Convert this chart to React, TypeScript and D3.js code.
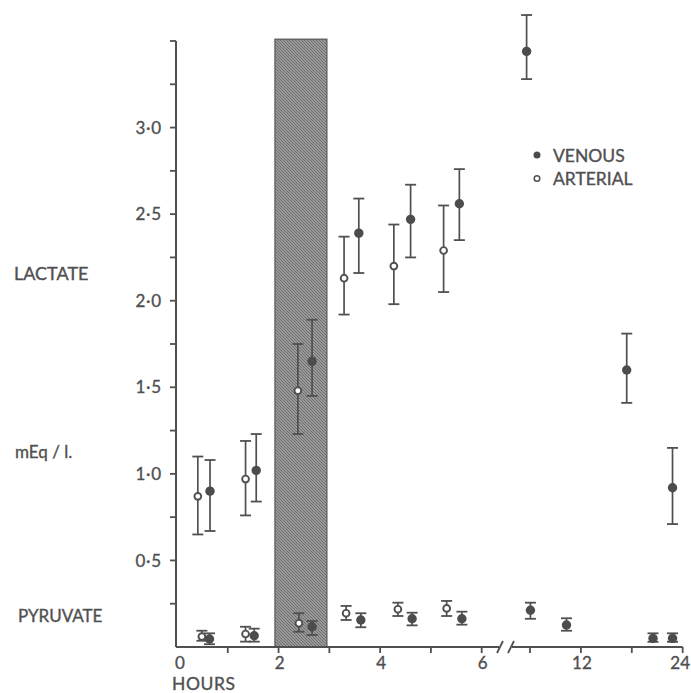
import { useEffect, useRef } from 'react';
import * as d3 from 'd3';

// [hours, mean, low, high]
type Pt = [number, number, number, number];

// early period, 0-6 h (left part of the time axis)
const lactateArterial: Pt[] = [
  [0.41, 0.87, 0.65, 1.1],
  [1.35, 0.97, 0.76, 1.19],
  [2.38, 1.48, 1.23, 1.75],
  [3.29, 2.13, 1.92, 2.37],
  [4.27, 2.2, 1.98, 2.44],
  [5.25, 2.29, 2.05, 2.55],
];
const lactateVenous: Pt[] = [
  [0.65, 0.9, 0.67, 1.08],
  [1.56, 1.02, 0.84, 1.23],
  [2.66, 1.65, 1.45, 1.89],
  [3.58, 2.39, 2.16, 2.59],
  [4.6, 2.47, 2.25, 2.67],
  [5.56, 2.56, 2.35, 2.76],
];
const pyruvateArterial: Pt[] = [
  [0.49, 0.06, 0.036, 0.094],
  [1.35, 0.075, 0.031, 0.117],
  [2.4, 0.137, 0.088, 0.195],
  [3.33, 0.195, 0.156, 0.237],
  [4.35, 0.218, 0.179, 0.256],
  [5.31, 0.223, 0.179, 0.266],
];
const pyruvateVenous: Pt[] = [
  [0.64, 0.046, 0.016, 0.079],
  [1.52, 0.065, 0.031, 0.106],
  [2.66, 0.117, 0.069, 0.15],
  [3.62, 0.156, 0.114, 0.195],
  [4.63, 0.163, 0.125, 0.198],
  [5.61, 0.163, 0.129, 0.204],
];
// late period, after the axis break (6-24 h scale)
const lactateVenousLate: Pt[] = [
  [5.6, 3.44, 3.28, 3.65],
  [17.4, 1.6, 1.41, 1.81],
  [22.8, 0.92, 0.71, 1.15],
];
const pyruvateVenousLate: Pt[] = [
  [6.05, 0.212, 0.163, 0.256],
  [10.3, 0.127, 0.094, 0.166],
  [20.5, 0.05, 0.03, 0.079],
  [22.8, 0.05, 0.03, 0.079],
];

const shadedHours = [1.93, 2.95];
const yTicks = d3.range(0.25, 3.51, 0.25);
const yLabels = [0.5, 1.0, 1.5, 2.0, 2.5, 3.0];
const xTicksEarly = [1, 2, 3, 4, 5, 6];
const xLabelsEarly = [0, 2, 4, 6];
const xTicksLate = [6, 12, 18, 24];
const xLabelsLate = [12, 24];

const INK = '#505050';
const FONT = 'Lato, "Open Sans", sans-serif';

const App = () => {
  const svgRef = useRef<SVGSVGElement>(null);

  useEffect(() => {
    if (!svgRef.current) return;
    d3.select(svgRef.current).selectAll('*').remove();

    const width = 691;
    const height = 693;
    const svg = d3.select(svgRef.current).attr('width', width).attr('height', height);

    const y = d3.scaleLinear().domain([0, 3.5]).range([647, 41]);
    const xEarly = d3.scaleLinear().domain([0, 6]).range([177, 481.7]);
    const xLate = d3.scaleLinear().domain([6, 24]).range([530, 682.7]);
    const axisX = 176;
    const axisY = y(0);

    // hatching for the shaded period
    const defs = svg.append('defs');
    const pat = defs.append('pattern')
      .attr('id', 'hatch')
      .attr('patternUnits', 'userSpaceOnUse')
      .attr('width', 3)
      .attr('height', 3);
    pat.append('rect').attr('width', 3).attr('height', 3).attr('fill', '#999');
    pat.append('path').attr('d', 'M-1,-1 L4,4 M-1,2 L1,4 M2,-1 L4,1')
      .attr('stroke', '#6a6a6a').attr('stroke-width', 0.9);

    svg.append('rect')
      .attr('x', xEarly(shadedHours[0]))
      .attr('y', y(3.51))
      .attr('width', xEarly(shadedHours[1]) - xEarly(shadedHours[0]))
      .attr('height', axisY - y(3.51))
      .attr('fill', 'url(#hatch)')
      .attr('stroke', '#666')
      .attr('stroke-width', 1.5);

    const text = (sel: d3.Selection<SVGTextElement, any, any, any>, size: number) =>
      sel.attr('font-family', FONT)
        .attr('font-size', size)
        .attr('fill', INK)
        .attr('stroke', INK)
        .attr('stroke-width', 0.35);

    // y axis
    svg.append('line')
      .attr('x1', axisX).attr('x2', axisX)
      .attr('y1', y(0)).attr('y2', y(3.5))
      .attr('stroke', INK).attr('stroke-width', 2);
    svg.selectAll('.ytick').data(yTicks).enter().append('line')
      .attr('x1', axisX - 6).attr('x2', axisX)
      .attr('y1', d => y(d)).attr('y2', d => y(d))
      .attr('stroke', INK).attr('stroke-width', 1.8);
    text(svg.selectAll('.ylab').data(yLabels).enter().append('text'), 17)
      .attr('x', 162)
      .attr('y', d => y(d))
      .attr('dy', '0.36em')
      .attr('text-anchor', 'end')
      .attr('letter-spacing', 0.8)
      .text(d => d.toFixed(1).replace('.', '·'));

    // x axis, broken after 6 h
    svg.append('line')
      .attr('x1', axisX).attr('x2', 499)
      .attr('y1', axisY).attr('y2', axisY)
      .attr('stroke', INK).attr('stroke-width', 2);
    svg.append('line')
      .attr('x1', 512).attr('x2', xLate(24))
      .attr('y1', axisY).attr('y2', axisY)
      .attr('stroke', INK).attr('stroke-width', 2);
    [500, 511].forEach(bx => {
      svg.append('line')
        .attr('x1', bx - 3).attr('x2', bx + 3)
        .attr('y1', axisY + 6).attr('y2', axisY - 6)
        .attr('stroke', INK).attr('stroke-width', 1.8);
    });
    const tickDown = (xs: number[]) => {
      svg.append('g').selectAll('line').data(xs).enter().append('line')
        .attr('x1', d => d).attr('x2', d => d)
        .attr('y1', axisY).attr('y2', axisY + 6)
        .attr('stroke', INK).attr('stroke-width', 1.8);
    };
    tickDown(xTicksEarly.map(d => xEarly(d)));
    tickDown(xTicksLate.map(d => xLate(d)));

    const xLabels = [
      ...xLabelsEarly.map(d => ({ x: xEarly(d) + (d === 0 ? 3 : 1), t: String(d), a: 'middle' })),
      ...xLabelsLate.map(d => ({
        x: d === 24 ? 690 : xLate(d) + 1,
        t: String(d),
        a: d === 24 ? 'end' : 'middle',
      })),
    ];
    text(svg.selectAll('.xlab').data(xLabels).enter().append('text'), 17)
      .attr('x', d => d.x)
      .attr('y', 669)
      .attr('text-anchor', d => d.a)
      .text(d => d.t);

    // axis titles
    const label = (txt: string, x: number, yy: number, size = 16) =>
      text(svg.append('text'), size).attr('x', x).attr('y', yy).text(txt);
    label('LACTATE', 14, 280, 18);
    label('mEq / l.', 15, 458, 17);
    label('PYRUVATE', 18, 622, 17);
    label('HOURS', 172, 690, 17.5).attr('letter-spacing', 0.6);

    // error bars and markers
    const drawSeries = (data: Pt[], x: d3.ScaleLinear<number, number>, filled: boolean) => {
      const g = svg.append('g');
      data.forEach(([t, v, lo, hi]) => {
        const cx = x(t);
        g.append('line')
          .attr('x1', cx).attr('x2', cx).attr('y1', y(lo)).attr('y2', y(hi))
          .attr('stroke', INK).attr('stroke-width', 1.7);
        [lo, hi].forEach(e => {
          g.append('line')
            .attr('x1', cx - 5.5).attr('x2', cx + 5.5).attr('y1', y(e)).attr('y2', y(e))
            .attr('stroke', INK).attr('stroke-width', 1.8);
        });
        if (filled) {
          g.append('circle').attr('cx', cx).attr('cy', y(v)).attr('r', 4.7).attr('fill', '#4c4c4c');
        } else {
          g.append('circle').attr('cx', cx).attr('cy', y(v)).attr('r', 3.4)
            .attr('fill', '#fff').attr('stroke', INK).attr('stroke-width', 1.9);
        }
      });
    };
    drawSeries(lactateArterial, xEarly, false);
    drawSeries(lactateVenous, xEarly, true);
    drawSeries(pyruvateArterial, xEarly, false);
    drawSeries(pyruvateVenous, xEarly, true);
    drawSeries(lactateVenousLate, xLate, true);
    drawSeries(pyruvateVenousLate, xLate, true);

    // legend
    svg.append('circle').attr('cx', 537).attr('cy', 155).attr('r', 3.5).attr('fill', '#4c4c4c');
    svg.append('circle').attr('cx', 537).attr('cy', 178.5).attr('r', 2.8)
      .attr('fill', '#fff').attr('stroke', INK).attr('stroke-width', 1.5);
    label('VENOUS', 553, 162, 17.5);
    label('ARTERIAL', 553, 185, 17.5);
  }, []);

  return (
    <svg
      ref={svgRef}
      style={{ position: 'absolute', left: 0, top: 0, background: '#fff' }}
    />
  );
};

export default App;
